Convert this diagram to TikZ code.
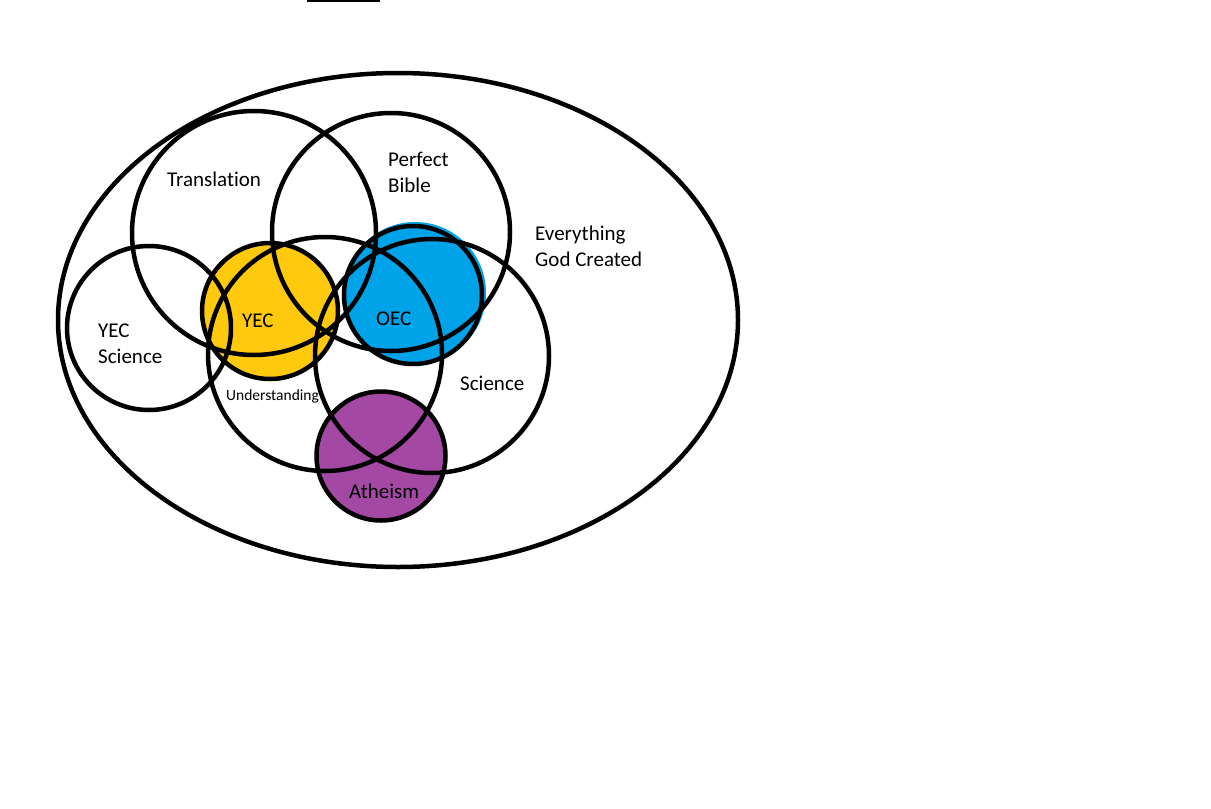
\documentclass[tikz,border=0pt]{standalone}
\usepackage{fontspec}
\setmainfont[Ligatures=CommonOff]{Carlito}
\definecolor{yecyellow}{HTML}{FFC90E}
\definecolor{oecblue}{HTML}{00A2E8}
\definecolor{athpurple}{HTML}{A349A4}
\begin{document}
\begin{tikzpicture}[x=1pt,y=-1pt,
  ring/.style={circle,draw=black,line width=4.5pt,inner sep=0pt,outer sep=0pt,minimum size=#1},
  blob/.style={circle,inner sep=0pt,outer sep=0pt,minimum size=#1},
  lbl/.style={anchor=base west,inner sep=0pt,align=left,font=\fontsize{21}{26}\selectfont},
  small/.style={anchor=base west,inner sep=0pt,font=\fontsize{15.5}{18}\selectfont}]
\useasboundingbox (0,0) rectangle (1211,809);
% top stroke
\coordinate (tl) at (307,0.8);
\coordinate (tr) at (380,0.8);
\draw[line width=1.6pt] (tl) -- (tr);
% filled circles (fills first)
\node[blob=136pt,fill=yecyellow] (yecf) at (270,311) {};
\node[blob=142pt,fill=oecblue] (oecf) at (415,293) {};
\node[blob=129pt,fill=athpurple] (athf) at (381,456) {};
% outlines
\draw[line width=4.5pt] (398,320) ellipse [x radius=340, y radius=247];
\node[ring=244pt] (trans) at (254,233) {};
\node[ring=238pt] (bible) at (391,232) {};
\node[ring=164pt] (yecsci) at (149,328) {};
\node[ring=234pt] (under) at (325,354) {};
\node[ring=234pt] (sci) at (432,356) {};
\node[ring=136pt] (yec) at (270,311) {};
\node[ring=138pt] (oec) at (413,295) {};
\node[ring=129pt] (ath) at (381,456) {};
% labels (multi-line nodes: base = last line)
\node[lbl] (tTrans) at (167,186) {Translation};
\node[lbl] (tBible) at (388,192) {Perfect\\Bible};
\node[lbl] (tEvery) at (535,266) {Everything\\God Created};
\node[lbl] (tYecSci) at (98,363) {YEC\\Science};
\node[lbl] (tYec) at (242,327) {YEC};
\node[lbl] (tOec) at (376,325) {OEC};
\node[small] (tUnder) at (226,400) {Understanding};
\node[lbl] (tSci) at (460,390) {Science};
\node[lbl] (tAth) at (349,498) {Atheism};
\end{tikzpicture}
\end{document}
